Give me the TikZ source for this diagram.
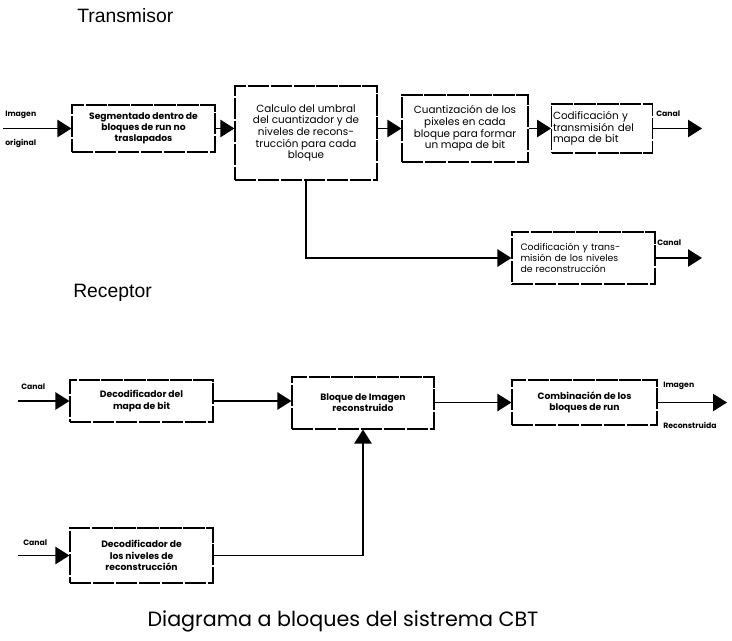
\documentclass[tikz,border=0pt]{standalone}
\usepackage{fontspec}
\setmainfont{Poppins}
\newfontfamily\arialfont{Liberation Sans}
\usetikzlibrary{arrows.meta}
\tikzset{
  blk/.style={draw, line width=0.85pt, dash pattern=on 16pt off 1.2pt, inner sep=1pt, align=center, font=\fontsize{6.9pt}{8.4pt}\selectfont\bfseries},
  blkn/.style={blk, font=\fontsize{7.8pt}{8.8pt}\selectfont},
  arr/.style={line width=1pt, -{Triangle[length=10.5pt,width=13pt]}},
  lbl/.style={font=\fontsize{5.8pt}{6pt}\selectfont\bfseries, inner sep=0pt},
  hdr/.style={font=\arialfont\fontsize{14.5pt}{16pt}\selectfont, inner sep=0pt}
}
\begin{document}
\begin{tikzpicture}[x=0.75pt,y=-0.75pt]
\useasboundingbox (0,0) rectangle (732,641);
% headers
\node[hdr, anchor=west] (tx) at (77,16) {Transmisor};
\node[hdr, anchor=west] (rx) at (73,293) {Receptor};
% transmitter boxes
\node[blk, minimum width=143pt*0.75, minimum height=47pt*0.75] (b1) at (143.5,128.5) {Segmentado dentro de\\bloques de run no\\traslapados};
\node[blkn, minimum width=142pt*0.75, minimum height=94pt*0.75] (b2) at (306,133) {Calculo del umbral\\del cuantizador y de\\niveles de recons-\\trucción para cada\\bloque};
\node[blkn, minimum width=126pt*0.75, minimum height=67pt*0.75] (b3) at (465,128.5) {Cuantización de los\\pixeles en cada\\bloque para formar\\un mapa de bit};
\node[blkn, align=left, minimum width=100pt*0.75, minimum height=49pt*0.75, text width=98pt*0.75] (b4) at (602,128.5) {Codificación y\\transmisión del\\mapa de bit};
\node[blkn, font=\fontsize{7pt}{8.4pt}\selectfont, align=left, minimum width=143pt*0.75, minimum height=52pt*0.75, text width=126pt*0.75] (b5) at (583.5,258) {Codificación y trans-\\misión de los niveles\\de reconstrucción};
% receiver boxes
\node[blk, minimum width=143pt*0.75, minimum height=42pt*0.75] (b6) at (141.5,401) {Decodificador del\\mapa de bit};
\node[blk, minimum width=142pt*0.75, minimum height=52pt*0.75] (b7) at (363,403) {Bloque de Imagen\\reconstruido};
\node[blk, minimum width=145pt*0.75, minimum height=45pt*0.75] (b8) at (584.5,402.5) {Combinación de los\\bloques de run};
\node[blk, minimum width=143pt*0.75, minimum height=55pt*0.75] (b9) at (141.5,555.5) {Decodificador de\\los niveles de\\reconstrucción};
% free ends
\coordinate (i1) at (3,128.5);
\coordinate (o4) at (702,128.5);
\coordinate (o5) at (702,258);
\coordinate (i6) at (18,401);
\coordinate (o8) at (727,402.5);
\coordinate (i9) at (18,555.5);
% connectors
\draw[arr] (i1) -- (b1.west);
\draw[arr] (b1.east) -- (b1.east -| b2.west);
\draw[arr] (b2.east |- b3.west) -- (b3.west);
\draw[arr] (b3.east) -- (b4.west);
\draw[arr] (b4.east) -- (o4);
\draw[arr] (b2.south) |- (b5.west);
\draw[arr] (b5.east) -- (o5);
\draw[arr] (i6) -- (b6.west);
\draw[arr] (b6.east) -- (b6.east -| b7.west);
\draw[arr] (b7.east |- b8.west) -- (b8.west);
\draw[arr] (b8.east) -- (o8);
\draw[arr] (i9) -- (b9.west);
\draw[arr] (b9.east) -| (b7.south);
% labels
\node[lbl, anchor=west] (l1a) at (5,115) {Imagen};
\node[lbl, anchor=west] (l1b) at (5,143) {original};
\node[lbl, anchor=west] (l4) at (656,114) {Canal};
\node[lbl, anchor=west] (l5) at (657,243) {Canal};
\node[lbl, anchor=west] (l6) at (21,387) {Canal};
\node[lbl, anchor=west] (l8a) at (663,386) {Imagen};
\node[lbl, anchor=west] (l8b) at (663,425) {Reconstruida};
\node[lbl, anchor=west] (l9) at (23,543) {Canal};
% caption
\node[font=\fontsize{15.5pt}{17pt}\selectfont, inner sep=0pt] (cap) at (343,621) {Diagrama a bloques del sistrema CBT};
\end{tikzpicture}
\end{document}
